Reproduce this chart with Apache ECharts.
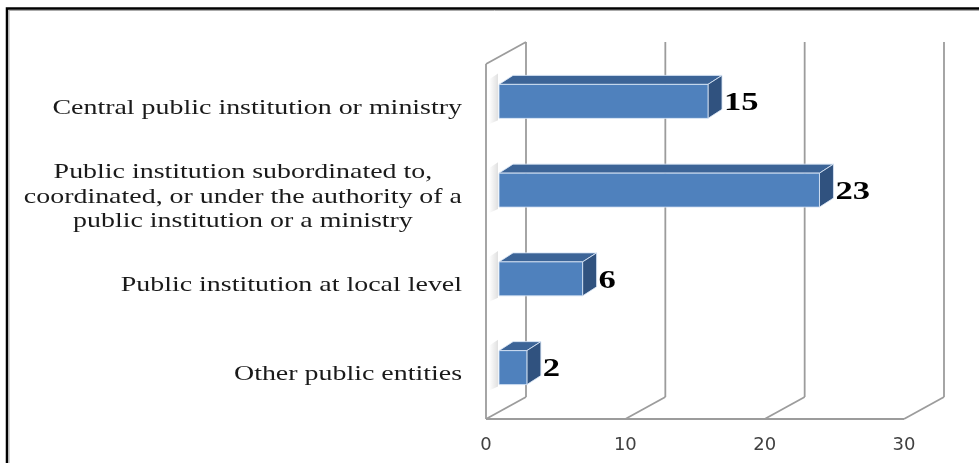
<!DOCTYPE html>
<html>
<head>
<meta charset="utf-8">
<script src="https://cdn.jsdelivr.net/npm/echarts@6/dist/echarts.min.js"></script>
<style>
html,body{margin:0;padding:0;background:#fff;}
#chart{width:979px;height:463px;}
</style>
</head>
<body>
<div id="chart"></div>
<script>
const categories = [
  'Central public institution or ministry',
  'Public institution subordinated to,\ncoordinated, or under the authority of a\npublic institution or a ministry',
  'Public institution at local level',
  'Other public entities'
];
const values = [15, 23, 6, 2];
const tickValues = [0, 10, 20, 30];

const DX = 40, DY = -22;          // depth of the 3D box
const BF = [13, -7];              // bar front plane offset
const BD = [14, -9];              // bar depth
const STRETCH = 1.33;             // horizontal text stretch
const LABEL_FONT = '21px "Liberation Serif"';

const measureCtx = document.createElement('canvas').getContext('2d');
function blockWidth(text) {
  measureCtx.font = LABEL_FONT;
  return Math.max.apply(null, text.split('\n').map(l => measureCtx.measureText(l).width));
}

const chart = echarts.init(document.getElementById('chart'), null, {renderer: 'canvas'});

function gridRender(params, api) {
  const cs = params.coordSys;
  const t = api.value(0);
  const p = api.coord([t, 0]);
  const x = p[0];
  const bottom = cs.y + cs.height;
  const top = cs.y;
  const ls = {stroke: '#9c9c9c', lineWidth: 1.8};
  const children = [
    {type: 'line', shape: {x1: x, y1: bottom, x2: x + DX, y2: bottom + DY}, style: ls},
    {type: 'line', shape: {x1: x + DX, y1: bottom + DY, x2: x + DX, y2: top + DY}, style: ls}
  ];
  if (params.dataIndex === 0) {
    children.push({type: 'line', shape: {x1: cs.x, y1: bottom, x2: cs.x, y2: top}, style: ls});
    children.push({type: 'line', shape: {x1: cs.x, y1: top, x2: cs.x + DX, y2: top + DY}, style: ls});
    children.push({type: 'line', shape: {x1: cs.x, y1: bottom, x2: cs.x + cs.width, y2: bottom}, style: ls});
  }
  return {type: 'group', children: children};
}

function labelRender(params, api) {
  const cs = params.coordSys;
  const i = api.value(1);
  const p = api.coord([0, i]);
  const text = categories[params.dataIndex];
  const right = cs.x - 24;
  const w = blockWidth(text) * STRETCH;
  return {
    type: 'text',
    x: right - w / 2,
    y: p[1],
    scaleX: STRETCH,
    style: {
      text: text,
      font: LABEL_FONT,
      fill: '#1a1a1a',
      align: 'center',
      verticalAlign: 'middle',
      lineHeight: 24.5
    }
  };
}

function barRender(params, api) {
  const v = api.value(0);
  const i = api.value(1);
  const p0 = api.coord([0, i]);
  const p1 = api.coord([v, i]);
  const band = api.size([0, 1])[1];
  const h = band * 0.383;
  const cy = p0[1] + BF[1];
  const x0 = p0[0] + BF[0];
  const x1 = p1[0] + BF[0];
  const top = cy - h / 2, bottom = cy + h / 2;
  const edge = {stroke: 'rgba(215,228,245,0.85)', lineWidth: 1};
  return {
    type: 'group',
    children: [
      {type: 'polygon', shape: {points: [[x0 - 10, top + BD[1] + 4], [x0 - 1, top + BD[1] - 2], [x0 - 1, bottom + 2], [x0 - 10, bottom + 6]]},
       style: {fill: new echarts.graphic.LinearGradient(0, 0, 1, 0, [
         {offset: 0, color: 'rgba(0,0,0,0)'}, {offset: 1, color: 'rgba(0,0,0,0.12)'}])}},
      {type: 'polygon', shape: {points: [[x0, top], [x0 + BD[0], top + BD[1]], [x1 + BD[0], top + BD[1]], [x1, top]]},
       style: Object.assign({fill: '#3c6497'}, edge)},
      {type: 'polygon', shape: {points: [[x1, top], [x1 + BD[0], top + BD[1]], [x1 + BD[0], bottom + BD[1]], [x1, bottom]]},
       style: Object.assign({fill: '#30527f'}, edge)},
      {type: 'polygon', shape: {points: [[x0, top], [x1, top], [x1, bottom], [x0, bottom]]},
       style: Object.assign({fill: '#4f81bd'}, edge)},
      {type: 'text', x: x1 + BD[0] + 2, y: cy + 2, scaleX: STRETCH,
       style: {text: String(v), font: 'bold 26px "Liberation Serif"', fill: '#000',
               align: 'left', verticalAlign: 'middle'}}
    ]
  };
}

chart.setOption({
  animation: false,
  backgroundColor: '#fff',
  graphic: [
    {type: 'rect', shape: {x: 7, y: 8.5, width: 1000, height: 500}, style: {fill: 'none', stroke: '#000', lineWidth: 2.5}, z: 100},
    {type: 'rect', shape: {x: 9, y: 10.5, width: 1000, height: 500}, style: {fill: 'none', stroke: '#aaa', lineWidth: 1}, z: 100}
  ],
  grid: {left: 486, top: 64, width: 418, height: 355},
  xAxis: {
    type: 'value', min: 0, max: 30, interval: 10,
    axisLine: {show: false}, axisTick: {show: false}, splitLine: {show: false},
    axisLabel: {margin: 17, fontFamily: 'DejaVu Sans', fontSize: 18, color: '#404040'}
  },
  yAxis: {
    type: 'category', data: categories, inverse: true,
    axisLine: {show: false}, axisTick: {show: false}, axisLabel: {show: false}, splitLine: {show: false}
  },
  series: [
    {type: 'custom', silent: true, z: 1, data: tickValues.map(t => [t, 0]), encode: {x: 0, y: 1}, renderItem: gridRender, clip: false},
    {type: 'custom', silent: true, z: 2, data: categories.map((c, i) => [0, i]), encode: {x: 0, y: 1}, renderItem: labelRender, clip: false},
    {type: 'custom', silent: true, z: 3, data: values.map((v, i) => [v, i]), encode: {x: 0, y: 1}, renderItem: barRender, clip: false}
  ]
});
</script>
</body>
</html>
